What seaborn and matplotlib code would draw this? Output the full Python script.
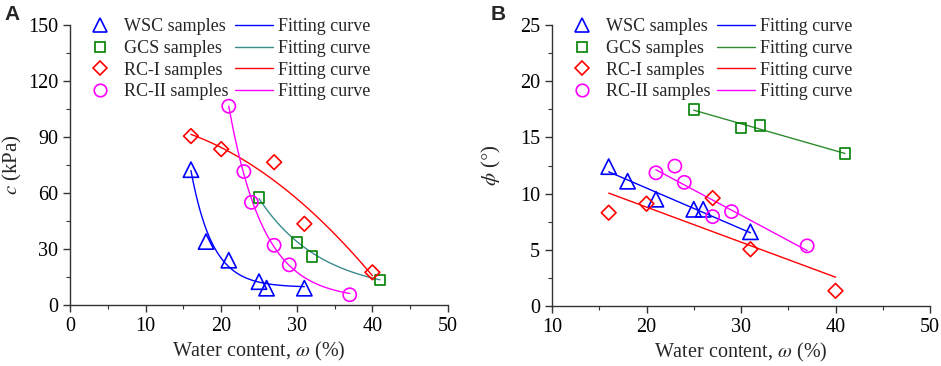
import numpy as np
import pandas as pd
import matplotlib
matplotlib.use("Agg")
import matplotlib.pyplot as plt
from matplotlib.lines import Line2D
from matplotlib.ticker import MultipleLocator
import seaborn as sns

# ---- data ----
groups = ["WSC", "GCS", "RC-I", "RC-II"]
colors = ["#0000FF", "#008000", "#FF0000", "#FF00FF"]
fit_colors_a = ["#0000FF", "#3A8C8C", "#FF0000", "#FF00FF"]
fit_colors_b = ["#0000FF", "#2E8B2E", "#FF0000", "#FF00FF"]
markers = ["^", "s", "D", "o"]
marker_sizes = [11, 7.5, 7.5, 9.5]

# water content (%) for each group
w_wsc = [16, 18, 21, 25, 26, 31]
w_gcs = [25, 30, 32, 41]
w_rc1 = [16, 20, 27, 31, 40]
w_rc2 = [21, 23, 24, 27, 29, 37]

# cohesion c (kPa), panel A
c_wsc = [72.5, 34, 24, 12.5, 9, 9]
c_gcs = [57.5, 33.5, 26, 13.5]
c_rc1 = [90.5, 83.5, 76.5, 43.5, 17.5]
c_rc2 = [106.5, 71.5, 55, 32, 21.5, 5.5]

# friction angle phi (deg), panel B
phi_wsc = [12.4, 11.1, 9.5, 8.6, 8.6, 6.6]
phi_gcs = [17.5, 15.85, 16.05, 13.55]
phi_rc1 = [8.3, 9.1, 9.6, 5.05, 1.35]
phi_rc2 = [11.85, 12.45, 11.0, 7.95, 8.4, 5.35]

# exponential decay fits in panel A: y = y0 + A*exp(-(w - w0)/t)
exp_fits = {
    "WSC": (9.5, 62.5, 16, 2.88),
    "GCS": (6.0, 51.0, 25, 8.34),
    "RC-II": (3.0, 103.5, 21, 4.6),
}

w_all = [w_wsc, w_gcs, w_rc1, w_rc2]
c_all = [c_wsc, c_gcs, c_rc1, c_rc2]
phi_all = [phi_wsc, phi_gcs, phi_rc1, phi_rc2]

sns.set_theme(style="ticks")
plt.rcParams["font.family"] = ["Liberation Serif", "DejaVu Serif"]
plt.rcParams["mathtext.fontset"] = "stix"
plt.rcParams["font.size"] = 14
plt.rcParams["xtick.direction"] = "out"
plt.rcParams["ytick.direction"] = "out"

fig = plt.figure(figsize=(9.41, 3.66), dpi=100)
ax_a = fig.add_axes([70 / 941, 61 / 366, 378 / 941, 280 / 366])
ax_b = fig.add_axes([552 / 941, 60 / 366, 378 / 941, 281 / 366])

lw = 1.0
mew = 1.2

# ---- panel A ----
for i, g in enumerate(groups):
    w = np.array(w_all[i], dtype=float)
    if g in exp_fits:
        y0, amp, w0, t = exp_fits[g]
        xs = np.linspace(w.min(), w.max(), 200)
        ys = y0 + amp * np.exp(-(xs - w0) / t)
        sns.lineplot(x=xs, y=ys, color=fit_colors_a[i], lw=lw, ax=ax_a)
    else:
        sns.regplot(x=w, y=np.array(c_all[i]), order=2, scatter=False, ci=None,
                    truncate=True, line_kws=dict(color=fit_colors_a[i], lw=lw), ax=ax_a)
    sns.scatterplot(x=w, y=c_all[i], marker=markers[i], s=marker_sizes[i] ** 2,
                    color=colors[i], facecolor="none", edgecolor=colors[i],
                    linewidth=mew, ax=ax_a, zorder=3)

ax_a.set_xlim(0, 50)
ax_a.set_ylim(0, 150)
ax_a.xaxis.set_major_locator(MultipleLocator(10))
ax_a.xaxis.set_minor_locator(MultipleLocator(5))
ax_a.yaxis.set_major_locator(MultipleLocator(30))
ax_a.yaxis.set_minor_locator(MultipleLocator(15))
ax_a.set_ylabel(r"$c$ (kPa)", fontsize=15, labelpad=3)

# ---- panel B ----
for i, g in enumerate(groups):
    w = np.array(w_all[i], dtype=float)
    sns.regplot(x=w, y=np.array(phi_all[i]), scatter=False, ci=None, truncate=True,
                line_kws=dict(color=fit_colors_b[i], lw=lw), ax=ax_b)
    sns.scatterplot(x=w, y=phi_all[i], marker=markers[i], s=marker_sizes[i] ** 2,
                    color=colors[i], facecolor="none", edgecolor=colors[i],
                    linewidth=mew, ax=ax_b, zorder=3)

ax_b.set_xlim(10, 50)
ax_b.set_ylim(0, 25)
ax_b.xaxis.set_major_locator(MultipleLocator(10))
ax_b.xaxis.set_minor_locator(MultipleLocator(5))
ax_b.yaxis.set_major_locator(MultipleLocator(5))
ax_b.yaxis.set_minor_locator(MultipleLocator(2.5))
ax_b.set_ylabel(r"$\phi$ ($\degree$)", fontsize=15, labelpad=12)

for ax, fcols in [(ax_a, fit_colors_a), (ax_b, fit_colors_b)]:
    sns.despine(ax=ax)
    for s in ["left", "bottom"]:
        ax.spines[s].set_color("#333333")
        ax.spines[s].set_linewidth(1.0)
    ax.tick_params(which="major", length=5, width=1.0, colors="#333333",
                   labelcolor="black", labelsize=14.5)
    ax.tick_params(which="minor", length=3, width=0.8, colors="#333333")
    ax.set_xlabel(r"Water content, $\omega$ (%)", fontsize=14.5, labelpad=3)
    handles = []
    labels = []
    for i, g in enumerate(groups):
        handles.append(Line2D([], [], ls="none", marker=markers[i],
                              ms=marker_sizes[i] * 0.95, mfc="none",
                              mec=colors[i], mew=mew))
        labels.append(f"{g} samples")
    for i, g in enumerate(groups):
        handles.append(Line2D([], [], color=fcols[i], lw=lw))
        labels.append("Fitting curve")
    ax.legend(handles, labels, ncol=2, loc="upper left",
              bbox_to_anchor=(0.01, 1.05), frameon=False, fontsize=13,
              handlelength=2.1, handletextpad=0.3, columnspacing=0.35,
              labelspacing=0.26, borderaxespad=0)

fig.text(4 / 941, 1 - 5 / 366, "A", fontsize=15, fontweight="bold",
         family="Liberation Sans", va="top", ha="left")
fig.text(491 / 941, 1 - 5 / 366, "B", fontsize=15, fontweight="bold",
         family="Liberation Sans", va="top", ha="left")

fig.savefig("out.png", dpi=100)
